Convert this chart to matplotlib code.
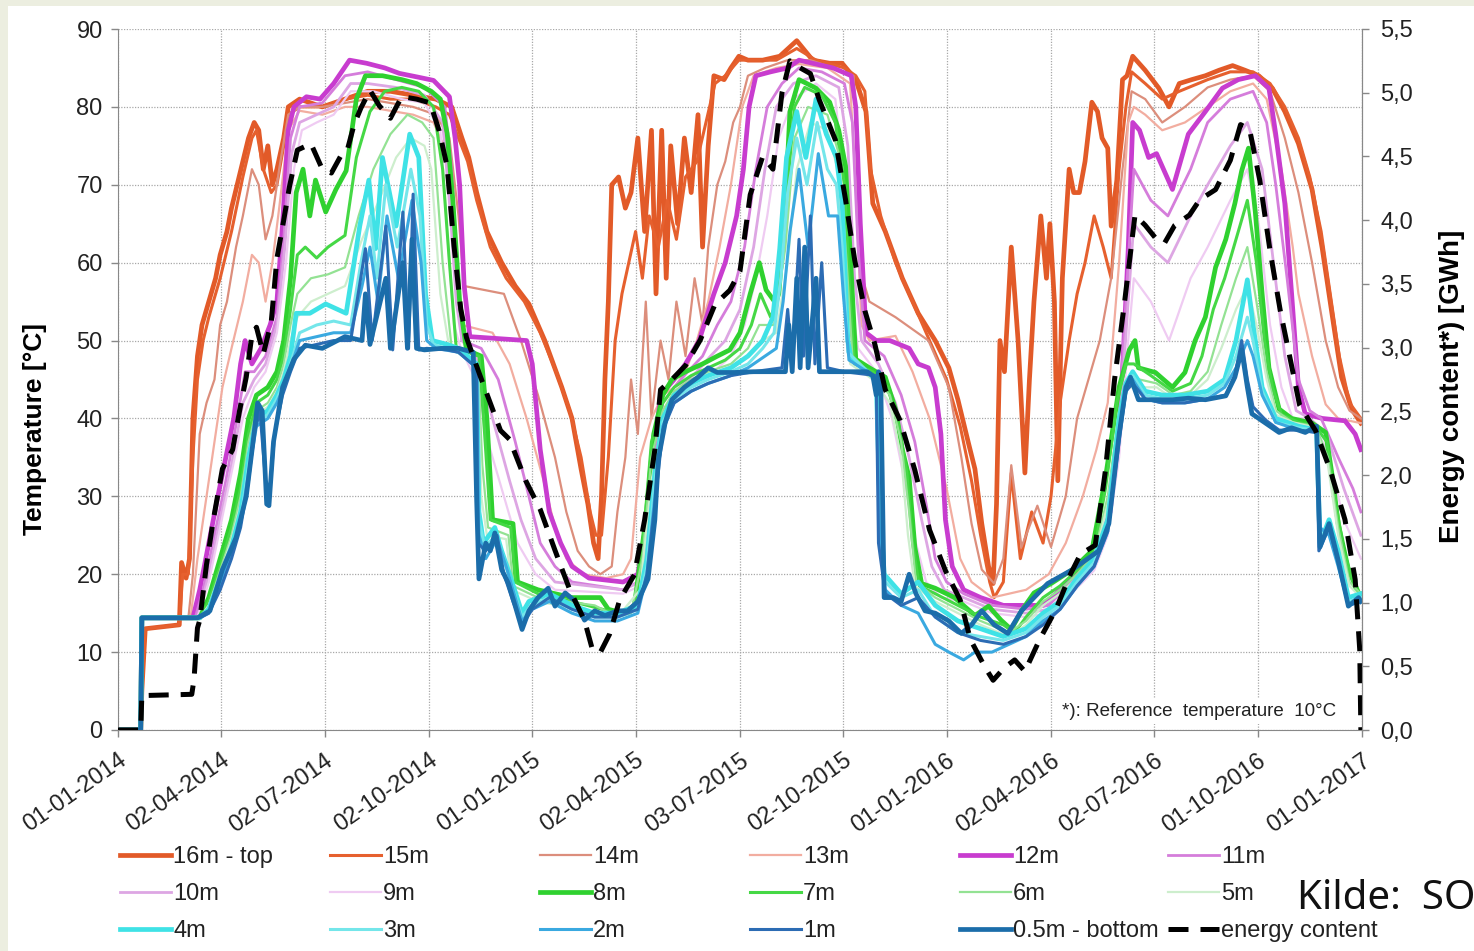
import numpy as np
import pandas as pd
import matplotlib
matplotlib.use("Agg")
import matplotlib.pyplot as plt
from matplotlib.lines import Line2D
from matplotlib.patches import Rectangle
from matplotlib.ticker import FuncFormatter, MultipleLocator

plt.rcParams['font.family'] = ['Liberation Sans', 'DejaVu Sans']

# Storage temperatures per layer, (days since 01-01-2014, deg C)
t16 = [(0, 0), (20, 0), (21, 5), (24, 13), (54, 13.5), (56, 21.5), (60, 19.5), (63, 22), (66, 40), (70, 48),
       (74, 52), (80, 55), (86, 58), (90, 61), (96, 64), (100, 67), (105, 70), (110, 73), (115, 76), (120, 78),
       (124, 77), (128, 72), (132, 75), (136, 70), (140, 72), (146, 76), (150, 80), (160, 81), (180, 80),
       (200, 81), (220, 82), (240, 82), (260, 81.5), (280, 81), (294, 80), (303, 76), (309, 73.5), (316, 69),
       (325, 64), (338, 60), (350, 57), (362, 54.7), (376, 50), (391, 44), (400, 40), (408, 33.5), (414, 29),
       (419, 24), (423, 22), (426, 30), (429, 45), (432, 55), (435, 70), (441, 71), (447, 67), (452, 69),
       (458, 76), (464, 64), (470, 77), (474, 56), (479, 77), (483, 58), (487, 75), (493, 65), (499, 76),
       (505, 69), (511, 79), (515, 62), (520, 75), (525, 84), (534, 83.5), (540, 85), (547, 86.5), (555, 86),
       (568, 86), (583, 86.5), (598, 88.5), (612, 86), (627, 85.6), (638, 85.6), (650, 83.5), (659, 79.4),
       (662, 73.5), (665, 67.6), (676, 64), (691, 58), (705, 53.5), (720, 50), (732, 46.5), (740, 42.4),
       (749, 37), (755, 33.5), (761, 26.5), (767, 21), (771, 18.8), (774, 29), (777, 50), (781, 46), (787, 62),
       (793, 50), (799, 33), (803, 45), (807, 55), (813, 66), (818, 58), (821, 65), (825, 55), (828, 32),
       (832, 58), (838, 72), (842, 69), (847, 69), (852, 73), (858, 80.6), (863, 79.4), (867, 76), (872, 74.7),
       (875, 64.7), (880, 70.6), (885, 83.5), (889, 84), (894, 86.5), (905, 84.7), (917, 82.4), (926, 80),
       (935, 83), (946, 83.5), (958, 84), (970, 84.7), (982, 85.3), (993, 84.7), (1005, 84), (1017, 82.4),
       (1028, 79.4), (1040, 75.3), (1052, 69.4), (1061, 61.8), (1070, 53), (1078, 45.3), (1087, 41.2),
       (1095, 39.4)]
t15 = [(0, 0), (20, 0), (21, 5), (24, 13), (54, 13.5), (57, 20), (62, 20), (66, 35), (70, 45), (75, 50),
       (80, 53), (90, 58), (100, 64), (110, 71), (118, 76), (122, 77), (128, 72), (135, 69), (140, 70),
       (146, 75), (150, 79), (160, 80), (180, 80), (200, 81), (220, 81.5), (240, 81), (260, 81), (280, 80),
       (292, 79), (300, 76), (308, 73), (316, 68), (328, 62), (342, 58), (358, 55), (372, 51), (386, 46),
       (398, 41), (408, 35), (416, 28), (421, 25), (426, 25), (432, 35), (438, 50), (444, 56), (450, 60),
       (456, 64), (462, 58), (468, 66), (476, 62), (484, 68), (492, 63), (500, 71), (510, 73), (518, 78),
       (526, 83), (535, 84), (547, 86), (560, 86), (580, 86), (598, 87.5), (615, 86), (640, 85), (650, 84),
       (658, 82), (663, 72), (672, 66), (685, 60), (700, 55), (715, 50), (730, 45), (742, 39), (752, 32),
       (760, 25), (768, 19), (772, 17), (780, 19), (787, 33), (795, 22), (805, 28), (815, 24), (822, 30),
       (830, 42), (838, 50), (845, 56), (852, 60), (860, 66), (868, 62), (875, 58), (882, 72), (888, 80),
       (893, 84.5), (905, 83), (920, 81), (935, 82), (960, 83.5), (980, 84.5), (1000, 84.5), (1015, 83),
       (1028, 80), (1040, 76), (1050, 71), (1060, 64), (1068, 56), (1076, 48), (1085, 42), (1095, 40)]
t14 = [(0, 0), (20, 0), (21, 14.4), (62, 14.4), (66, 20), (72, 38), (78, 42), (85, 45), (90, 52), (96, 55),
       (104, 62), (110, 66), (118, 72), (124, 70), (130, 63), (136, 66), (142, 72), (150, 79), (160, 80),
       (180, 80), (200, 80.5), (220, 81), (240, 80.5), (260, 80), (280, 79), (292, 76), (300, 66), (305, 57),
       (340, 56), (355, 50), (370, 43), (385, 35), (395, 28), (405, 23), (415, 21), (425, 20), (435, 21),
       (440, 28), (447, 35), (452, 45), (458, 38), (465, 55), (470, 40), (478, 50), (485, 45), (492, 55),
       (500, 48), (508, 58), (515, 52), (520, 62), (528, 70), (535, 73), (542, 78), (548, 80), (555, 84),
       (570, 85), (590, 86), (610, 86), (630, 85), (648, 84), (652, 75), (656, 58), (662, 55), (685, 53),
       (714, 50), (732, 44), (743, 35), (752, 26.5), (761, 20.6), (772, 18.8), (780, 22), (787, 34),
       (796, 23.5), (810, 28.8), (822, 23.5), (835, 30), (845, 40), (855, 45), (865, 50), (875, 58), (885, 72),
       (893, 82), (905, 81), (920, 78), (940, 80), (960, 82.5), (980, 83.5), (1000, 84), (1015, 82),
       (1028, 76), (1040, 69), (1052, 60), (1064, 50), (1075, 44), (1085, 41), (1095, 40)]
t13 = [(0, 0), (20, 0), (21, 14.4), (64, 14.4), (70, 22), (78, 30), (85, 37), (92, 44), (100, 49), (110, 55),
       (118, 61), (124, 60), (130, 55), (136, 60), (142, 67), (150, 77), (160, 79.5), (180, 79), (200, 80),
       (220, 80), (240, 79.5), (260, 79), (278, 78), (290, 74), (298, 62), (303, 52), (330, 51), (345, 47),
       (360, 40), (375, 32), (385, 26), (395, 22), (410, 20), (430, 19.5), (445, 20), (452, 22), (460, 35),
       (470, 40), (480, 43), (490, 44), (500, 46), (510, 50), (520, 55), (530, 62), (540, 70), (550, 80),
       (560, 84), (580, 85), (600, 85.5), (625, 85), (645, 83), (650, 70), (655, 52), (662, 50), (685, 50.6),
       (700, 46), (715, 40), (730, 31), (742, 22), (752, 19), (770, 17), (800, 18), (820, 20), (835, 24),
       (850, 30), (862, 36), (872, 42), (882, 60), (890, 78), (895, 80), (905, 79), (920, 77), (940, 78),
       (960, 80), (980, 82), (1000, 83), (1012, 81), (1025, 72), (1035, 62), (1040, 56), (1052, 48),
       (1064, 41.8), (1075, 40), (1095, 39.4)]
t12 = [(0, 0), (20, 0), (21, 14.4), (66, 14.4), (72, 18), (80, 24), (88, 30), (95, 35), (102, 40), (108, 47),
       (112, 50), (118, 47), (126, 49), (134, 52), (140, 55), (145, 65), (150, 77), (155, 80), (166, 81.3),
       (178, 81), (190, 83), (204, 86), (219, 85.6), (235, 85), (248, 84.3), (265, 83.8), (278, 83.4),
       (292, 81.3), (297, 76), (301, 70), (305, 57), (310, 50.5), (360, 50), (365, 47), (372, 36), (380, 28),
       (390, 24), (400, 21), (415, 19.5), (445, 19), (458, 20), (465, 26), (472, 35), (478, 43), (490, 45),
       (500, 47), (512, 50), (525, 56), (535, 60), (545, 66), (551, 72), (556, 80), (562, 84), (575, 84.5),
       (590, 85), (600, 86), (615, 85.5), (630, 85), (646, 84), (650, 80), (654, 65), (659, 51), (668, 50),
       (680, 50), (697, 49), (705, 47), (714, 46.5), (720, 44), (725, 38), (729, 27), (735, 21), (745, 18),
       (760, 17), (780, 16), (800, 16), (815, 16), (830, 18), (848, 20.5), (865, 23.7), (874, 28), (883, 40),
       (890, 61.6), (894, 78), (900, 77), (908, 73.5), (915, 74), (929, 69.4), (943, 76.5), (958, 79.4),
       (973, 82.4), (987, 83.5), (1002, 84), (1014, 82.4), (1020, 76.5), (1028, 67.6), (1034, 56), (1040, 44),
       (1046, 40.6), (1061, 40), (1081, 39.7), (1090, 38), (1095, 36)]
t11 = [(0, 0), (20, 0), (21, 14.4), (68, 14.4), (75, 18), (85, 25), (95, 32), (105, 40), (112, 46), (120, 46),
       (130, 48), (140, 53), (146, 63), (152, 76), (160, 80), (180, 80.5), (200, 84), (220, 84.5), (245, 83.5),
       (270, 82.5), (288, 80), (294, 72), (299, 58), (303, 50), (320, 49), (335, 45), (350, 37), (362, 30),
       (372, 24), (385, 21), (400, 19), (445, 18), (458, 19), (465, 25), (472, 34), (480, 42), (490, 44),
       (502, 46), (515, 48), (528, 52), (540, 55), (552, 62), (562, 72), (572, 80), (585, 83), (600, 85),
       (620, 84.5), (640, 83), (647, 78), (652, 62), (658, 50), (675, 48), (690, 43), (702, 37), (712, 29),
       (720, 22), (730, 19), (745, 17.5), (770, 16), (800, 15.5), (820, 16), (840, 19), (860, 22), (872, 27),
       (882, 40), (890, 60), (895, 72), (910, 68), (925, 66), (945, 72), (960, 78), (980, 81), (1000, 82),
       (1012, 78), (1020, 70), (1030, 58), (1040, 45), (1050, 41), (1060, 40), (1075, 35), (1088, 31),
       (1095, 28)]
t10 = [(0, 0), (20, 0), (21, 14.4), (70, 14.4), (80, 20), (90, 27), (100, 34), (110, 42), (120, 45), (130, 47),
       (140, 52), (147, 62), (153, 74), (160, 78), (175, 79), (190, 80), (205, 83), (220, 83), (245, 82.5),
       (270, 81.5), (286, 78), (293, 66), (298, 55), (303, 50), (315, 48), (330, 40), (345, 32), (355, 27),
       (368, 22), (385, 19), (445, 18), (460, 19), (468, 25), (476, 36), (485, 42), (495, 44), (510, 46),
       (522, 48), (535, 50), (548, 54), (560, 62), (570, 72), (580, 80), (595, 83), (615, 84), (635, 82.5),
       (643, 75), (649, 58), (655, 50), (670, 47), (685, 42), (697, 35), (708, 27), (717, 21), (728, 18),
       (745, 17), (770, 15.5), (800, 15), (820, 15.5), (840, 18), (860, 21), (872, 26), (882, 38), (890, 55),
       (895, 65), (910, 62), (925, 60), (945, 66), (960, 70), (980, 75), (995, 78), (1008, 72), (1018, 60),
       (1028, 48), (1038, 41), (1050, 40), (1065, 38), (1080, 31), (1095, 25)]
t9 = [(0, 0), (20, 0), (21, 14.4), (70, 14.4), (80, 19), (90, 26), (100, 33), (110, 40), (120, 44), (130, 46),
      (140, 51), (148, 60), (155, 72), (162, 77), (175, 78), (190, 79), (205, 82), (225, 82), (250, 81),
      (270, 80.5), (284, 77), (291, 62), (296, 52), (302, 49), (315, 45), (328, 36), (340, 30), (352, 24),
      (368, 20), (385, 18), (445, 17.5), (460, 18.5), (468, 24), (476, 34), (485, 41), (495, 43), (510, 45),
      (525, 46), (540, 48), (552, 52), (562, 58), (572, 66), (582, 76), (595, 81), (615, 83), (632, 81),
      (640, 70), (646, 55), (652, 49), (668, 46), (682, 40), (693, 32), (703, 24), (712, 19), (725, 17),
      (745, 16.5), (770, 15), (800, 14.5), (820, 15), (840, 17.5), (860, 20.5), (872, 25), (882, 35),
      (890, 50), (895, 58), (910, 55), (926, 50), (945, 58), (960, 62), (980, 68), (995, 72), (1005, 65),
      (1015, 52), (1025, 44), (1035, 40), (1050, 40), (1065, 36), (1080, 27), (1095, 22)]
t8 = [(0, 0), (20, 0), (21, 14.4), (72, 14.4), (80, 17), (90, 22), (100, 27), (108, 33), (115, 40), (122, 43),
      (132, 44), (140, 46), (146, 50), (152, 58), (157, 69), (163, 72), (169, 66), (174, 70.6), (183, 66.5),
      (192, 69.4), (201, 71.8), (210, 81), (218, 84), (233, 84), (250, 83.5), (263, 83), (276, 82), (284, 81),
      (290, 76.6), (295, 68), (301, 55), (307, 48.8), (320, 48), (325, 40), (330, 27), (348, 26.5), (352, 19),
      (370, 18), (400, 17), (425, 17), (432, 15.5), (445, 15), (455, 16), (465, 27), (472, 38), (480, 43),
      (488, 45), (500, 46), (515, 47), (528, 48), (539, 48.8), (548, 51), (557, 56), (565, 60), (571, 56.5),
      (580, 54.7), (586, 61.8), (592, 79.4), (600, 83.5), (615, 82.4), (627, 80.6), (635, 77), (641, 72.4),
      (647, 56), (650, 47.6), (662, 46.5), (676, 45.3), (685, 41.2), (691, 36), (697, 32.4), (702, 23.5),
      (708, 18.8), (720, 18.2), (737, 17), (755, 14.7), (767, 15.9), (778, 14.1), (787, 12.9), (796, 15.3),
      (807, 17.6), (822, 18.8), (841, 20.6), (858, 23), (870, 32.4), (882, 44), (891, 48.8), (896, 50),
      (899, 46.5), (914, 45.9), (929, 44), (940, 45.9), (949, 50), (958, 53), (967, 59.4), (976, 63),
      (984, 67.6), (990, 71.8), (996, 74.7), (1002, 66.5), (1008, 56), (1014, 46.5), (1023, 41.2), (1034, 40),
      (1052, 39.4), (1064, 38.2), (1070, 32.4), (1075, 26.5), (1084, 20.6), (1093, 17.6), (1095, 17)]
t7 = [(0, 0), (20, 0), (21, 14.4), (72, 14.4), (80, 16.5), (90, 21), (100, 26), (108, 31), (115, 38), (122, 42),
      (132, 43), (140, 45), (146, 48), (152, 54), (158, 61), (165, 62), (175, 60.6), (185, 62), (200, 63.5),
      (210, 73.5), (222, 79.4), (235, 82), (250, 82.5), (265, 82), (278, 80), (286, 72), (292, 60), (298, 49),
      (318, 48), (323, 38), (328, 27), (346, 26), (350, 19), (370, 17.5), (400, 16.5), (440, 15), (455, 15.5),
      (463, 25), (470, 37), (480, 42), (490, 44), (505, 45.5), (520, 46.5), (535, 47.5), (548, 49), (558, 52),
      (566, 56), (575, 53), (583, 56), (590, 70), (596, 80), (605, 82.5), (620, 81.5), (632, 78), (640, 70),
      (645, 55), (649, 47), (665, 46), (678, 44), (688, 39), (695, 33), (700, 24), (706, 18.5), (720, 17.5),
      (740, 16), (760, 14.5), (780, 13.5), (790, 12.5), (800, 14.5), (815, 17), (830, 18.5), (845, 20.5),
      (860, 23), (870, 31), (880, 42), (888, 47), (895, 47), (910, 45.5), (929, 43.5), (945, 44.5), (955, 48),
      (965, 54), (975, 58), (985, 63), (995, 68), (1003, 60), (1010, 50), (1017, 44), (1025, 40.5),
      (1040, 39.5), (1055, 39), (1065, 37), (1072, 30), (1080, 23), (1090, 18), (1095, 17.5)]
t6 = [(0, 0), (20, 0), (21, 14.4), (72, 14.4), (80, 16), (90, 20.5), (100, 25), (108, 30), (115, 37), (122, 41),
      (132, 42), (140, 44), (146, 47), (152, 52), (158, 56), (170, 58), (185, 58.5), (200, 59.4), (212, 66),
      (225, 72), (240, 76.5), (255, 79), (268, 78), (278, 76), (286, 60), (294, 49), (317, 47), (321, 34),
      (326, 26), (344, 25), (348, 18.5), (370, 17), (420, 16), (440, 14.5), (452, 15), (462, 22), (470, 35),
      (480, 41), (490, 43.5), (505, 45), (520, 46), (540, 47), (555, 49), (565, 52), (578, 52), (588, 62),
      (596, 76), (608, 80), (625, 79), (635, 74), (642, 60), (647, 48), (665, 45.5), (680, 43), (690, 37),
      (697, 28), (703, 19), (720, 17), (740, 15.5), (760, 14), (785, 12.5), (800, 14), (815, 16.5), (830, 18),
      (845, 20), (860, 22.5), (872, 30), (882, 41), (890, 45), (900, 45), (915, 44.5), (930, 43), (945, 43.5),
      (960, 46), (972, 52), (985, 58), (995, 62), (1003, 55), (1012, 46), (1020, 41), (1035, 39.5),
      (1055, 39), (1066, 35), (1075, 26), (1085, 19), (1095, 17.5)]
t5 = [(0, 0), (20, 0), (21, 14.4), (72, 14.4), (80, 16), (90, 20), (100, 24.5), (108, 29), (115, 36), (122, 40.5),
      (132, 41.5), (140, 43.5), (146, 46), (152, 50), (158, 53), (170, 55), (185, 56), (200, 57), (215, 63),
      (230, 68), (245, 73.5), (258, 76), (270, 75), (276, 72), (284, 56), (292, 49), (317, 47), (320, 30),
      (325, 25), (342, 24.5), (347, 18), (370, 16.5), (440, 14.5), (460, 18), (470, 32), (480, 40), (490, 43),
      (505, 44.5), (520, 45.5), (540, 46.5), (555, 48), (568, 50), (580, 51), (590, 60), (598, 72), (610, 78),
      (625, 77), (634, 72), (640, 58), (645, 47), (665, 45), (680, 42), (690, 35), (696, 25), (702, 18.5),
      (720, 16.5), (740, 15), (760, 13.5), (785, 12), (800, 13.5), (815, 16), (830, 17.5), (845, 19.5),
      (860, 22), (872, 29), (882, 40), (890, 44), (900, 44), (915, 44), (930, 42.5), (945, 43), (960, 45),
      (972, 49), (985, 54), (995, 57), (1003, 52), (1012, 45), (1020, 40.5), (1035, 39.5), (1055, 38.8),
      (1066, 34), (1075, 25), (1085, 18.5), (1095, 17)]
t4 = [(0, 0), (20, 0), (21, 14.4), (72, 14.4), (80, 15.5), (90, 19.5), (100, 23.5), (108, 28), (115, 35),
      (122, 40), (132, 41), (140, 43), (146, 45), (152, 48), (157, 53.5), (169, 53.5), (183, 54.7), (201, 53.5),
      (213, 64.7), (221, 70.6), (227, 61.8), (233, 73.5), (245, 64.7), (257, 76.5), (265, 73.5), (271, 55.9),
      (277, 50), (290, 49.5), (300, 49), (316, 47), (318, 28), (322, 24), (332, 26), (338, 23), (345, 20),
      (356, 15), (362, 16.5), (380, 17.5), (400, 16), (420, 15), (440, 15), (458, 16), (466, 22), (473, 33),
      (480, 40), (490, 43), (505, 44.5), (520, 45.5), (540, 46.5), (555, 48), (568, 50), (577, 53), (583, 61.8),
      (589, 73.5), (598, 79.4), (606, 73.5), (615, 81), (624, 76.5), (633, 73.5), (638, 67.6), (643, 50),
      (646, 47.6), (660, 46), (668, 45), (671, 30), (675, 20), (690, 17.5), (705, 19), (720, 16), (740, 14),
      (760, 13), (780, 12), (800, 13), (815, 15), (830, 16.5), (845, 19.5), (860, 22), (872, 27), (882, 40),
      (888, 44.5), (894, 46), (905, 43.5), (920, 43), (940, 43), (960, 43.5), (975, 45), (985, 50),
      (995, 57.8), (1000, 52), (1008, 44), (1020, 40), (1040, 39), (1056, 38.5), (1059, 24), (1067, 27),
      (1075, 23), (1084, 17), (1095, 17.5)]
t3 = [(0, 0), (20, 0), (21, 14.4), (72, 14.4), (80, 15.2), (90, 19), (100, 23), (108, 27), (115, 34), (122, 39.5),
      (132, 40.5), (140, 42.5), (146, 44.5), (152, 47), (160, 51), (175, 52), (190, 52.5), (205, 52), (214, 60),
      (222, 66), (228, 58), (236, 70), (246, 62), (258, 72), (266, 66), (272, 52), (278, 49.5), (300, 48.5),
      (316, 46.5), (318, 27), (323, 23.5), (333, 25), (340, 22), (346, 19), (356, 14.5), (364, 16), (380, 17),
      (400, 15.5), (420, 14.5), (440, 14.5), (458, 15.5), (466, 21), (473, 32), (480, 39.5), (490, 42.5),
      (505, 44), (520, 45), (540, 46), (555, 47), (568, 49), (578, 51), (584, 58), (590, 69), (598, 76),
      (607, 70), (616, 78), (625, 72), (633, 70), (638, 62), (643, 48.5), (660, 46), (668, 45), (671, 28),
      (676, 19), (690, 17), (705, 18), (720, 14.5), (740, 12.5), (760, 12), (780, 11.5), (800, 12.5),
      (815, 14.5), (830, 16), (845, 19), (860, 21.5), (872, 26), (882, 39), (888, 44), (894, 45.5), (905, 43),
      (920, 42.5), (940, 42.5), (960, 43), (975, 44.5), (985, 48), (995, 53), (1000, 50), (1008, 43.5),
      (1020, 39.5), (1040, 38.8), (1056, 38.5), (1059, 25), (1067, 26), (1075, 22), (1084, 16.5), (1095, 17)]
t2 = [(0, 0), (20, 0), (21, 14.4), (72, 14.4), (80, 15), (90, 18.5), (100, 22.5), (108, 26.5), (115, 33),
      (122, 39), (132, 40), (140, 42), (146, 44), (152, 46.5), (160, 50), (175, 50.5), (190, 51), (205, 51),
      (215, 57), (222, 62), (229, 55), (237, 66), (247, 58), (259, 68), (267, 60), (272, 50), (280, 49),
      (300, 48.5), (316, 46.5), (318, 25), (324, 22), (334, 24.5), (342, 21), (348, 18), (356, 14), (365, 15.5),
      (380, 16.5), (400, 15), (420, 14), (440, 14), (458, 15), (466, 20), (473, 30), (480, 39), (490, 42),
      (505, 43.5), (520, 44.5), (540, 45.5), (555, 46.5), (570, 48), (580, 49), (586, 55), (592, 64), (600, 72),
      (608, 62), (617, 74), (626, 66), (634, 66), (639, 56), (644, 47.5), (660, 46), (668, 45), (671, 25),
      (676, 18), (690, 16), (705, 15), (720, 11), (732, 10), (745, 9), (755, 10), (770, 10), (785, 11),
      (800, 12), (815, 14), (830, 15.5), (845, 18.5), (860, 21), (872, 25.5), (882, 38), (888, 43.5),
      (894, 45), (905, 42.5), (920, 42), (940, 42), (960, 42.5), (975, 44), (985, 46.5), (995, 50), (1000, 48),
      (1008, 43), (1020, 39.5), (1040, 38.5), (1056, 38.2), (1059, 26), (1067, 25), (1075, 21), (1084, 16),
      (1095, 16.5)]
t1 = [(0, 0), (20, 0), (21, 14.4), (72, 14.4), (80, 15), (90, 18), (100, 22), (108, 26), (115, 32), (120, 38),
      (125, 41), (130, 32), (134, 31), (138, 38), (145, 43), (152, 46), (160, 49), (175, 49.5), (190, 50),
      (205, 50), (218, 61.8), (224, 50), (236, 64.7), (242, 48.8), (251, 66.5), (256, 49), (260, 68.8),
      (265, 48.8), (272, 49), (290, 48.8), (300, 48.5), (316, 46.5), (317, 24), (324, 23), (334, 25), (340, 20),
      (348, 16.5), (356, 13.5), (365, 15.5), (380, 17), (400, 15.5), (420, 14.5), (440, 14.5), (458, 15.5),
      (466, 20), (473, 29), (480, 38.5), (490, 42), (505, 43.5), (520, 44.5), (540, 45.5), (560, 46),
      (585, 46.5), (590, 54), (594, 47), (600, 63), (604, 48), (610, 66), (614, 47), (620, 60), (625, 46.5),
      (640, 46), (668, 45.5), (670, 24), (676, 17.5), (690, 16), (705, 17), (720, 14.5), (740, 12.5),
      (760, 11.5), (780, 11), (800, 12), (815, 13.5), (830, 15.5), (845, 18.5), (860, 21), (872, 25.5),
      (882, 37), (888, 43.5), (894, 44.5), (905, 42.5), (920, 42), (940, 42), (960, 42.5), (976, 43),
      (984, 45.5), (990, 50), (995, 45), (1000, 41.5), (1011, 39.8), (1023, 38.5), (1040, 38.5), (1056, 38.2),
      (1058, 23), (1067, 26), (1075, 21.5), (1084, 16), (1095, 16.5)]
t05 = [(0, 0), (20, 0), (21, 14.4), (70, 14.4), (81, 15.3), (92, 20.6), (104, 24.7), (113, 30), (119, 37),
       (123, 42), (127, 41), (131, 29), (133, 28.8), (137, 37), (145, 44), (155, 47.6), (165, 49.4), (180, 49),
       (200, 50.5), (215, 50), (218, 56), (222, 49.5), (236, 58), (240, 49), (251, 60), (255, 49), (259, 63),
       (263, 49), (270, 48.8), (285, 49), (300, 49), (313, 48.5), (316, 29.4), (318, 19.4), (324, 24),
       (328, 23), (332, 25.3), (338, 20.6), (344, 18.8), (350, 15.9), (356, 12.9), (362, 15.3), (370, 17),
       (379, 18.2), (385, 15.9), (394, 17.6), (403, 16.5), (411, 14.1), (420, 15.3), (429, 14.7), (440, 15.3),
       (449, 15.3), (458, 16.5), (467, 19.4), (473, 27), (476, 34.7), (482, 39.4), (488, 42.4), (499, 44),
       (511, 45.3), (520, 46.5), (528, 45.9), (543, 45.9), (560, 46), (575, 46), (588, 46), (591, 52),
       (594, 46), (598, 58), (601, 46.5), (605, 62), (608, 46.5), (615, 58), (618, 46), (630, 46), (645, 46),
       (660, 46), (665, 45.5), (668, 43), (670, 46), (672, 45), (675, 17), (683, 17), (690, 16.5), (697, 20),
       (703, 17.5), (711, 15.3), (720, 15), (732, 14), (743, 12.4), (752, 13.5), (761, 15.3), (772, 13.5),
       (784, 12.4), (796, 15.3), (807, 17), (819, 18.8), (841, 20.6), (864, 23), (873, 26.5), (882, 38),
       (888, 44), (892, 45.3), (899, 42.4), (914, 42.4), (929, 42.4), (943, 42.6), (958, 42.4), (976, 42.9),
       (984, 45.3), (990, 48.8), (995, 44), (999, 40.6), (1011, 39.4), (1023, 38.2), (1034, 38.8), (1046, 38.2),
       (1056, 39), (1059, 23.5), (1067, 26.5), (1075, 21.8), (1084, 15.9), (1093, 17), (1095, 16.5)]

# Energy content in GWh (right axis), reference temperature 10 deg C
energy = [(0, 0), (20, 0), (21, 0.27), (65, 0.28), (67, 0.4), (70, 0.8), (72, 0.86), (78, 1.3), (84, 1.65),
          (92, 2.05), (101, 2.2), (107, 2.5), (113, 2.77), (118, 3.1), (122, 3.16), (128, 2.95), (135, 3.2),
          (140, 3.7), (146, 4.0), (151, 4.26), (158, 4.55), (170, 4.6), (180, 4.4), (188, 4.37), (196, 4.5),
          (202, 4.55), (208, 4.75), (214, 4.88), (222, 5.02), (230, 4.9), (240, 4.8), (250, 4.97), (263, 4.95),
          (275, 4.92), (283, 4.7), (290, 4.42), (296, 3.8), (302, 3.3), (307, 3.08), (319, 2.78), (337, 2.35),
          (345, 2.28), (359, 1.96), (372, 1.73), (385, 1.41), (398, 1.1), (411, 0.86), (418, 0.63), (425, 0.61),
          (433, 0.75), (442, 1.02), (455, 1.22), (464, 1.65), (473, 2.2), (478, 2.67), (488, 2.75), (500, 2.86),
          (513, 3.06), (526, 3.34), (539, 3.45), (548, 3.6), (557, 4.2), (568, 4.5), (577, 4.4), (585, 5.0),
          (592, 5.25), (600, 5.2), (610, 5.15), (618, 4.94), (632, 4.63), (641, 4.16), (649, 3.69), (658, 3.29),
          (667, 3.02), (676, 2.67), (689, 2.43), (702, 2.04), (715, 1.57), (729, 1.25), (742, 1.02), (751, 0.71),
          (764, 0.49), (771, 0.39), (781, 0.49), (790, 0.55), (799, 0.46), (812, 0.71), (826, 0.94), (839, 1.22),
          (848, 1.38), (861, 1.45), (870, 2.04), (878, 2.75), (887, 3.37), (896, 4.04), (905, 3.96), (915, 3.85),
          (922, 3.82), (931, 3.96), (944, 4.04), (953, 4.16), (967, 4.24), (980, 4.47), (989, 4.75), (997, 4.71),
          (1006, 4.31), (1015, 3.76), (1024, 3.29), (1033, 2.9), (1041, 2.55), (1055, 2.35), (1068, 2.04),
          (1081, 1.65), (1090, 1.18), (1094, 0.63), (1095, 0.0)]

labels = ['16m - top', '15m', '14m', '13m', '12m', '11m', '10m', '9m', '8m', '7m', '6m', '5m',
          '4m', '3m', '2m', '1m', '0.5m - bottom']
series = [t16, t15, t14, t13, t12, t11, t10, t9, t8, t7, t6, t5, t4, t3, t2, t1, t05]
colors = ['#e25a28', '#e6602e', '#dc8e7c', '#f2ada0', '#c83ccf', '#d57ddb', '#dda6e3', '#efcbf2',
          '#2fd12f', '#45d845', '#93e293', '#cdeecd', '#3fe2e6', '#74e6ea', '#3aa9e0', '#2c6cb4', '#1b6daa']
widths = [3.4, 2.2, 1.6, 1.6, 3.4, 2.0, 2.0, 1.6, 3.4, 2.2, 1.6, 1.6, 3.4, 2.2, 2.2, 2.2, 3.4]

start_date = pd.Timestamp('2014-01-01')
tick_dates = ['2014-01-01', '2014-04-02', '2014-07-02', '2014-10-02', '2015-01-01', '2015-04-02', '2015-07-03',
              '2015-10-02', '2016-01-01', '2016-04-02', '2016-07-02', '2016-10-01', '2017-01-01']


def to_xy(points):
    days, vals = zip(*points)
    return start_date + pd.to_timedelta(days, unit='D'), np.array(vals)


W, H = 1474, 951
fig = plt.figure(figsize=(W / 100, H / 100), dpi=100, facecolor='#eceee0')
fig.add_artist(Rectangle((8 / W, 0), 1, 1 - 6 / H, transform=fig.transFigure, facecolor='white',
                         edgecolor='none', zorder=0))
ax = fig.add_axes([118 / W, 1 - 730 / H, 1244 / W, 701 / H])
ax.set_facecolor('none')

for pts, lab, col, lw in zip(series, labels, colors, widths):
    x, y = to_xy(pts)
    ax.plot(x, y, color=col, lw=lw, label=lab, solid_joinstyle='round')

ax.set_xlim(start_date, pd.Timestamp('2017-01-01'))
ax.set_ylim(0, 90)
ax.yaxis.set_major_locator(MultipleLocator(10))
ax.set_xticks(pd.to_datetime(tick_dates))
ax.set_xticklabels([pd.Timestamp(t).strftime('%d-%m-%Y') for t in tick_dates], rotation=35,
                   ha='right', va='top', rotation_mode='anchor')
ax.grid(True, color='#a8a8a8', lw=0.9, ls=(0, (1, 1.2)))
ax.tick_params(labelsize=17, colors='#888888', labelcolor='#222222', length=5, width=1, pad=6)
ax.tick_params(axis='x', pad=9)
for s in ['left', 'bottom', 'right']:
    ax.spines[s].set_color('#888888')
ax.spines['top'].set_visible(False)
ax.set_ylabel('Temperature [°C]', fontsize=19, fontweight='bold')
ax.yaxis.set_label_coords(-0.057, 0.43)

ax2 = ax.twinx()
ex, ey = to_xy(energy)
ax2.plot(ex, ey, color='black', lw=3.6, ls=(0, (4, 2.4)), dash_capstyle='butt', label='energy content')
ax2.set_ylim(0, 5.5)
ax2.yaxis.set_major_locator(MultipleLocator(0.5))
ax2.yaxis.set_major_formatter(FuncFormatter(lambda v, _: f'{v:.1f}'.replace('.', ',')))
ax2.tick_params(labelsize=17, colors='#888888', labelcolor='#222222', length=5, width=1, pad=8)
ax2.spines['right'].set_color('#888888')
for s in ['top', 'left', 'bottom']:
    ax2.spines[s].set_visible(False)
ax2.set_ylabel('Energy content*) [GWh]', fontsize=20, fontweight='bold', rotation=90)
ax2.yaxis.set_label_coords(1.062, 0.49)

ax2.text(0.759, 0.026, '*): Reference  temperature  10°C', transform=ax2.transAxes, fontsize=13.5,
         va='center', ha='left', color='#222222',
         bbox=dict(facecolor='white', edgecolor='none', pad=3))

# legend drawn column by column so the columns sit at fixed spacing
handles = [Line2D([], [], color=c, lw=w) for c, w in zip(colors, widths)]
handles.append(Line2D([], [], color='black', lw=3.6, ls=(0, (4, 2.4)), dash_capstyle='butt'))
all_labels = labels + ['energy content']
col_x = [120, 330, 540, 750, 960, 1168]
for i, cx in enumerate(col_x):
    idx = [i, i + 6, i + 12]
    fig.legend([handles[k] for k in idx], [all_labels[k] for k in idx], loc='upper left',
               bbox_to_anchor=(cx / W, 1 - 846 / H), frameon=False, fontsize=17, handlelength=2.15,
               handletextpad=0.1, borderpad=0, borderaxespad=0, labelspacing=0.64,
               labelcolor='#222222')

fig.text(1297 / W, 1 - 899 / H, 'Kilde:  SO', fontsize=29, family='Noto Sans', va='center', ha='left',
         color='#111111')

fig.savefig('out.png', dpi=100, facecolor=fig.get_facecolor())
